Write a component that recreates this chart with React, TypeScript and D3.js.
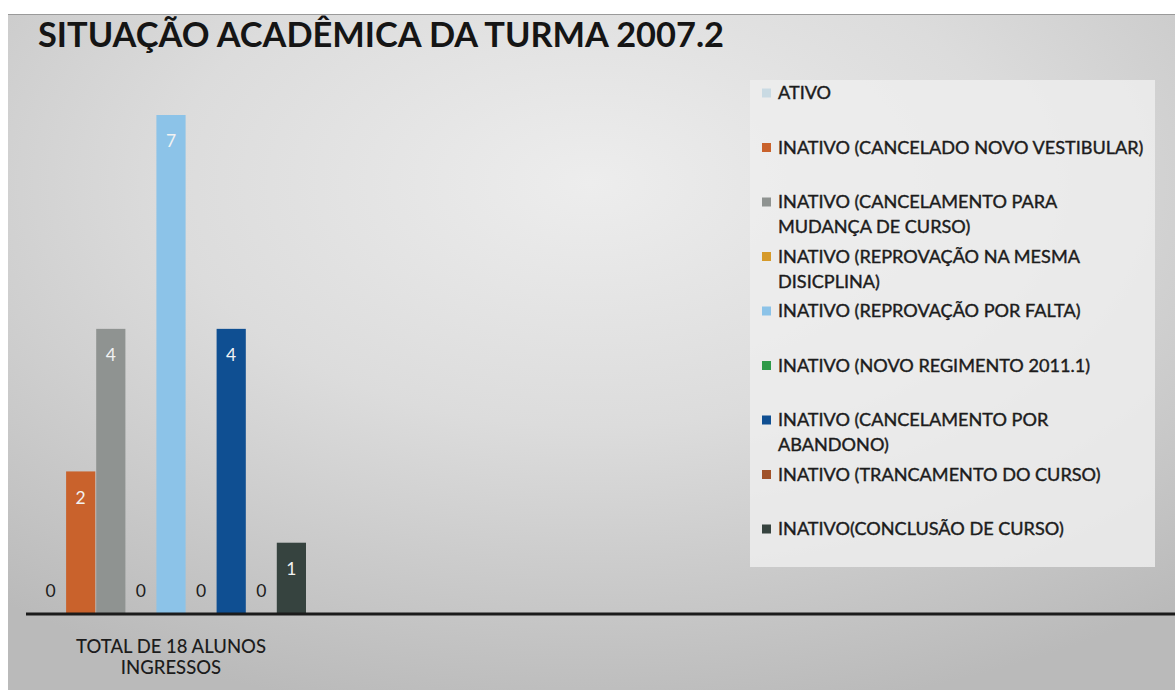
import React from 'react';
import * as d3 from 'd3';

// chart data
const title = 'SITUAÇÃO ACADÊMICA DA TURMA 2007.2';
const categoryLines = ['TOTAL DE 18 ALUNOS', 'INGRESSOS'];
const seriesNames = [
  'ATIVO',
  'INATIVO (CANCELADO NOVO VESTIBULAR)',
  'INATIVO (CANCELAMENTO PARA MUDANÇA DE CURSO)',
  'INATIVO (REPROVAÇÃO NA MESMA DISICPLINA)',
  'INATIVO (REPROVAÇÃO POR FALTA)',
  'INATIVO (NOVO REGIMENTO 2011.1)',
  'INATIVO (CANCELAMENTO POR ABANDONO)',
  'INATIVO (TRANCAMENTO DO CURSO)',
  'INATIVO(CONCLUSÃO DE CURSO)',
];
const seriesValues = [0, 2, 4, 0, 7, 0, 4, 0, 1];
const seriesColors = [
  '#c9dae3', '#c9622c', '#8f9391', '#d69a2a', '#8cc3e8',
  '#2e9a48', '#0f4f92', '#a0522a', '#36433f',
];
// how the legend wraps the long names
const legendLines = [
  ['ATIVO'],
  ['INATIVO (CANCELADO NOVO VESTIBULAR)'],
  ['INATIVO (CANCELAMENTO PARA', 'MUDANÇA DE CURSO)'],
  ['INATIVO (REPROVAÇÃO NA MESMA', 'DISICPLINA)'],
  ['INATIVO (REPROVAÇÃO POR FALTA)'],
  ['INATIVO (NOVO REGIMENTO 2011.1)'],
  ['INATIVO (CANCELAMENTO POR', 'ABANDONO)'],
  ['INATIVO (TRANCAMENTO DO CURSO)'],
  ['INATIVO(CONCLUSÃO DE CURSO)'],
];

const W = 1175;
const H = 693;
const FONT = 'Lato, "Open Sans", sans-serif';

export default function App() {
  const baseY = 614;

  // one category, nine series side by side
  const x0 = d3.scaleBand().domain([categoryLines.join(' ')]).range([21, 321]);
  const x1 = d3.scaleBand<string>()
    .domain(seriesNames)
    .range([15, x0.bandwidth() - 15])
    .paddingInner(0.03);
  const y = d3.scaleLinear().domain([0, 7]).range([baseY, 115]);

  const catX = x0(categoryLines.join(' '))!;
  const catCenter = catX + x0.bandwidth() / 2;

  // legend rows
  const legendY = d3.scaleLinear().domain([0, 1]).range([93, 147.5]);

  return (
    <div style={{ position: 'absolute', left: 0, top: 0 }}>
      <svg width={W} height={H} style={{ display: 'block' }}>
        <defs>
          <radialGradient id="bg" cx="0.5" cy="0.25" r="0.8">
            <stop offset="0" stopColor="#ededed" />
            <stop offset="0.45" stopColor="#dcdcdc" />
            <stop offset="1" stopColor="#bababa" />
          </radialGradient>
        </defs>
        <rect x={0} y={0} width={W} height={H} fill="#ffffff" />
        <rect x={8} y={14} width={W - 8} height={676} fill="url(#bg)" />
        <line x1={8} x2={W} y1={14.5} y2={14.5} stroke="#9a9a9a" strokeWidth={1} />

        <text x={38} y={47} fontFamily={FONT} fontWeight={700} fontSize={34.4} fill="#151515">
          {title}
        </text>

        {/* legend box */}
        <rect x={750} y={80} width={405} height={487} fill="#ededed" opacity={0.85} />
        {legendLines.map((lines, i) => (
          <g key={i} transform={`translate(0,${legendY(i)})`}>
            <rect x={762} y={-4.5} width={9} height={9} fill={seriesColors[i]} />
            {lines.map((ln, j) => (
              <text key={j} x={778} y={j * 25} dy="0.35em" fontFamily={FONT}
                fontWeight={400} fontSize={18.1} fill="#1c1c1c"
                stroke="#1c1c1c" strokeWidth={0.4}>
                {ln}
              </text>
            ))}
          </g>
        ))}

        {/* bars */}
        <g transform={`translate(${catX},0)`}>
          {seriesNames.map((s, i) => {
            const v = seriesValues[i];
            const bx = x1(s)!;
            const cx = bx + x1.bandwidth() / 2;
            return (
              <g key={s}>
                {v > 0 && (
                  <rect x={bx} y={y(v)} width={x1.bandwidth()} height={baseY - y(v)}
                    fill={seriesColors[i]} />
                )}
                <text x={cx} y={v > 0 ? y(v) + 26 : baseY - 23} dy="0.35em"
                  textAnchor="middle" fontFamily={FONT} fontSize={17.5}
                  fill={v > 0 ? '#f2f2f2' : '#1c1c1c'}>
                  {v}
                </text>
              </g>
            );
          })}
        </g>

        {/* category axis */}
        <line x1={26} x2={W} y1={baseY} y2={baseY} stroke="#1b1b1b" strokeWidth={3} />
        {categoryLines.map((ln, j) => (
          <text key={j} x={catCenter} y={647 + j * 21} dy="0.35em" textAnchor="middle"
            fontFamily={FONT} fontWeight={500} fontSize={18.5} fill="#1c1c1c">
            {ln}
          </text>
        ))}
      </svg>
    </div>
  );
}
